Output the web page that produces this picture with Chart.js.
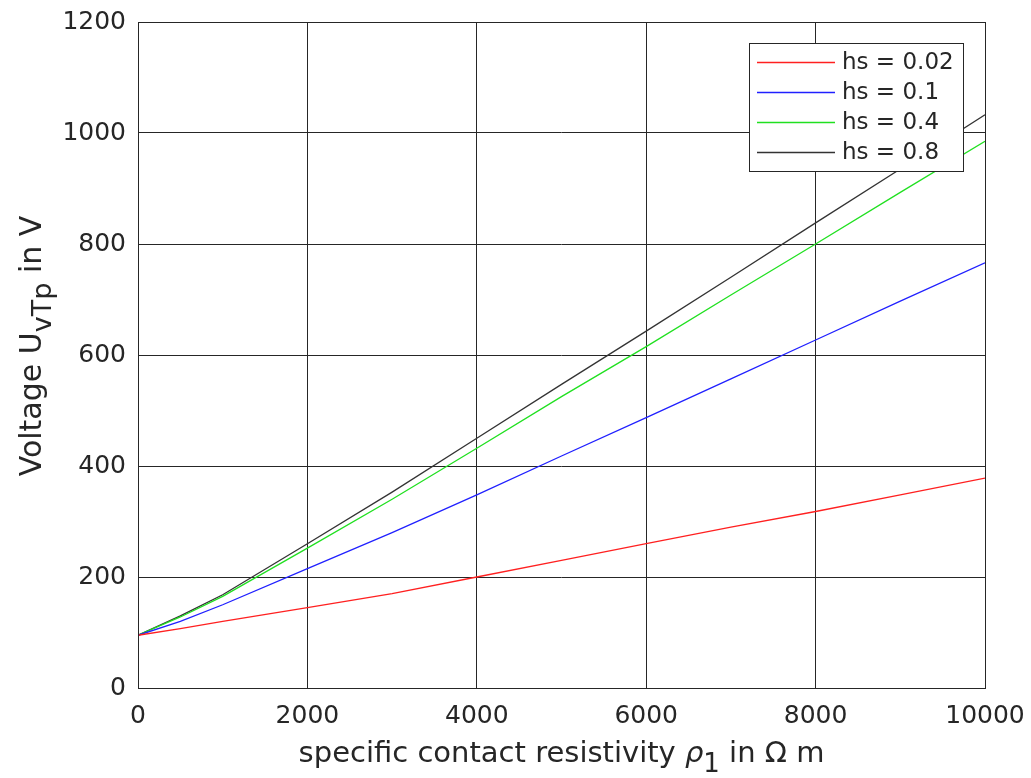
<!DOCTYPE html>
<html><head><meta charset="utf-8">
<script src="https://cdn.jsdelivr.net/npm/chart.js@4.4.0/dist/chart.umd.min.js"></script>
<style>html,body{margin:0;padding:0;background:#fff}#wrap{width:1031px;height:778px}</style>
</head><body><div id="wrap"><canvas id="c" width="1031" height="778"></canvas></div>
<script>
const rho = [0, 500, 1000, 2000, 3000, 4000, 5000, 6000, 7000, 8000, 9000, 10000];
const hs002 = [95, 107, 120, 145, 170, 200, 230, 260, 290, 318, 348, 378];
const hs01  = [95, 120, 150, 215, 280, 348, 418, 487, 557, 627, 697, 766];
const hs04  = [95, 128, 165, 252, 340, 432, 525, 615, 708, 800, 893, 985];
const hs08  = [95, 130, 168, 260, 353, 450, 547, 643, 740, 838, 935, 1033];
const seriesLabels = ['hs = 0.02', 'hs = 0.1', 'hs = 0.4', 'hs = 0.8'];
const seriesColors = ['#ff2020', '#2020ff', '#20e020', '#333333'];
const xTicks = [0, 2000, 4000, 6000, 8000, 10000];
const yTicks = [0, 200, 400, 600, 800, 1000, 1200];

const FONT = '"DejaVu Sans", sans-serif';
const all = [hs002, hs01, hs04, hs08];
const datasets = all.map((arr, i) => ({
  label: seriesLabels[i],
  data: rho.map((x, j) => ({x: x, y: arr[j]})),
  borderColor: seriesColors[i],
  borderWidth: 1.3,
  pointRadius: 0,
  tension: 0,
  fill: false
}));

function drawRich(ctx, parts, x, y) {
  // parts: [text, size, italic, dy]
  let w = 0;
  parts.forEach(p => { ctx.font = (p[2] ? 'italic ' : '') + p[1] + 'px ' + FONT; p.w = ctx.measureText(p[0]).width; w += p.w; });
  let cx = x - w / 2;
  parts.forEach(p => { ctx.font = (p[2] ? 'italic ' : '') + p[1] + 'px ' + FONT; ctx.fillText(p[0], cx, y + p[3]); cx += p.w; });
}

const overlay = {
  id: 'overlay',
  afterDraw(chart) {
    const ctx = chart.ctx, a = chart.chartArea;
    ctx.save();
    ctx.strokeStyle = '#262626'; ctx.lineWidth = 1;
    ctx.strokeRect(Math.round(a.left)+0.5, Math.round(a.top)+0.5, Math.round(a.right-a.left), Math.round(a.bottom-a.top));
    ctx.fillStyle = '#262626';
    ctx.textBaseline = 'alphabetic'; ctx.textAlign = 'left';
    // x title
    drawRich(ctx, [['specific contact resistivity ', 29, false, 0], ['ρ', 29, true, 0], ['1', 26, false, 10], [' in Ω m', 29, false, 0]],
             (a.left + a.right) / 2, 762);
    // y title
    ctx.save();
    ctx.translate(41, 346);
    ctx.rotate(-Math.PI / 2);
    drawRich(ctx, [['Voltage U', 30, false, 0], ['vTp', 27, false, 10], [' in V', 30, false, 0]], 0, 0);
    ctx.restore();
    // legend
    const lx = 749.5, ly = 43.5, lw = 214, lh = 128;
    ctx.fillStyle = '#ffffff';
    ctx.fillRect(lx, ly, lw, lh);
    ctx.strokeStyle = '#262626'; ctx.lineWidth = 1;
    ctx.strokeRect(lx, ly, lw, lh);
    ctx.font = '23px ' + FONT; ctx.textBaseline = 'middle';
    chart.data.datasets.forEach((ds, i) => {
      const yy = 62.5 + i * 30;
      ctx.strokeStyle = ds.borderColor; ctx.lineWidth = 1.3;
      ctx.beginPath(); ctx.moveTo(757, yy); ctx.lineTo(835, yy); ctx.stroke();
      ctx.fillStyle = '#262626';
      ctx.fillText(ds.label, 842, yy + 1);
    });
    ctx.restore();
  }
};

new Chart(document.getElementById('c'), {
  type: 'line',
  data: { datasets },
  options: {
    responsive: false,
    animation: false,
    layout: { padding: { left: 0, right: 46, top: 22, bottom: 0 } },
    plugins: { legend: { display: false }, tooltip: { enabled: false } },
    scales: {
      x: {
        type: 'linear', min: 0, max: 10000,
        afterBuildTicks(s) { s.ticks = xTicks.map(v => ({value: v})); },
        afterFit(s) { s.height = 90; s.paddingLeft = 0; s.paddingRight = 0; },
        grid: { color: '#262626', lineWidth: 1, drawTicks: false },
        border: { display: false },
        ticks: { font: { family: FONT, size: 25 }, color: '#262626', padding: 13, maxRotation: 0,
                 callback: v => String(v) }
      },
      y: {
        type: 'linear', min: 0, max: 1200,
        afterBuildTicks(s) { s.ticks = yTicks.map(v => ({value: v})); },
        afterFit(s) { s.width = 138; s.paddingTop = 0; s.paddingBottom = 0; },
        grid: { color: '#262626', lineWidth: 1, drawTicks: false },
        border: { display: false },
        ticks: { font: { family: FONT, size: 25 }, color: '#262626', padding: 12,
                 callback: v => String(v) }
      }
    }
  },
  plugins: [overlay]
});
</script></body></html>
